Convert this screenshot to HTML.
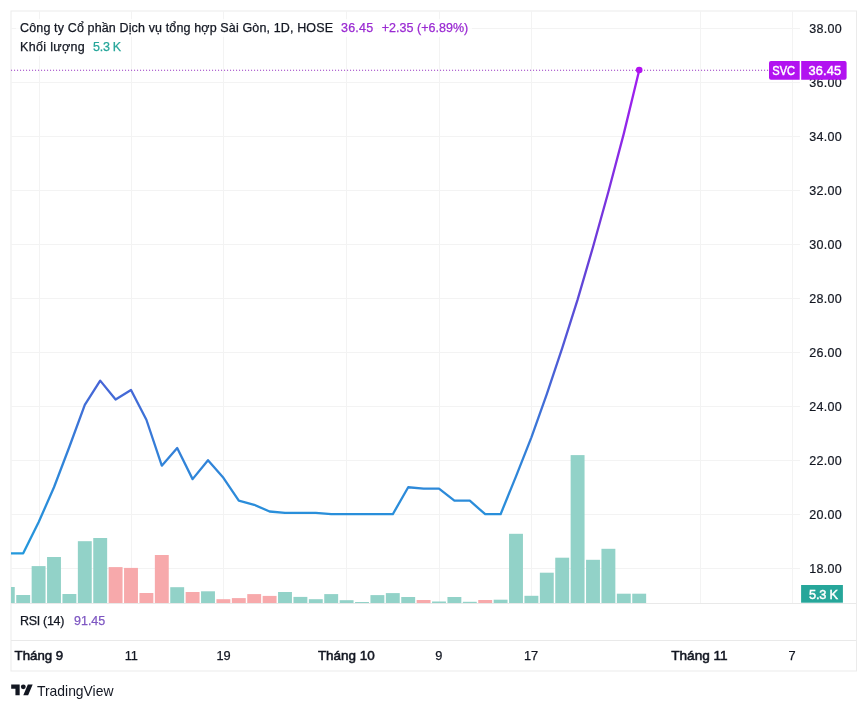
<!DOCTYPE html>
<html><head><meta charset="utf-8">
<style>
html,body{margin:0;padding:0;background:#fff;width:868px;height:710px;overflow:hidden}
svg{position:absolute;left:0;top:0;will-change:transform}
text{font-family:"Liberation Sans", sans-serif}
</style></head><body>
<svg width="868" height="710" viewBox="0 0 868 710">
<defs>
<linearGradient id="lg" gradientUnits="userSpaceOnUse" x1="0" y1="554" x2="0" y2="70">
<stop offset="0" stop-color="#2398dc"/>
<stop offset="0.2" stop-color="#3282d8"/>
<stop offset="0.38" stop-color="#4a60d6"/>
<stop offset="0.63" stop-color="#6a3cd8"/>
<stop offset="1" stop-color="#a31cf0"/>
</linearGradient>
<clipPath id="cp"><rect x="11" y="11" width="789" height="592"/></clipPath>
</defs>
<rect x="11" y="11" width="845.5" height="660" fill="#fff" stroke="#ebebeb" stroke-width="1"/>
<line x1="11" x2="800" y1="28.5" y2="28.5" stroke="#f3f3f3" stroke-width="1"/>
<line x1="11" x2="800" y1="82.5" y2="82.5" stroke="#f3f3f3" stroke-width="1"/>
<line x1="11" x2="800" y1="136.5" y2="136.5" stroke="#f3f3f3" stroke-width="1"/>
<line x1="11" x2="800" y1="190.5" y2="190.5" stroke="#f3f3f3" stroke-width="1"/>
<line x1="11" x2="800" y1="244.5" y2="244.5" stroke="#f3f3f3" stroke-width="1"/>
<line x1="11" x2="800" y1="298.5" y2="298.5" stroke="#f3f3f3" stroke-width="1"/>
<line x1="11" x2="800" y1="352.5" y2="352.5" stroke="#f3f3f3" stroke-width="1"/>
<line x1="11" x2="800" y1="406.5" y2="406.5" stroke="#f3f3f3" stroke-width="1"/>
<line x1="11" x2="800" y1="460.5" y2="460.5" stroke="#f3f3f3" stroke-width="1"/>
<line x1="11" x2="800" y1="514.5" y2="514.5" stroke="#f3f3f3" stroke-width="1"/>
<line x1="11" x2="800" y1="568.5" y2="568.5" stroke="#f3f3f3" stroke-width="1"/>
<line x1="39.5" x2="39.5" y1="11" y2="603" stroke="#f3f3f3" stroke-width="1"/>
<line x1="131.5" x2="131.5" y1="11" y2="603" stroke="#f3f3f3" stroke-width="1"/>
<line x1="223.5" x2="223.5" y1="11" y2="603" stroke="#f3f3f3" stroke-width="1"/>
<line x1="346.5" x2="346.5" y1="11" y2="603" stroke="#f3f3f3" stroke-width="1"/>
<line x1="439.5" x2="439.5" y1="11" y2="603" stroke="#f3f3f3" stroke-width="1"/>
<line x1="531.5" x2="531.5" y1="11" y2="603" stroke="#f3f3f3" stroke-width="1"/>
<line x1="700.5" x2="700.5" y1="11" y2="603" stroke="#f3f3f3" stroke-width="1"/>
<line x1="792.5" x2="792.5" y1="11" y2="603" stroke="#f3f3f3" stroke-width="1"/>
<rect x="11.00" y="587.00" width="3.75" height="16.00" fill="#92d2c8"/>
<rect x="16.25" y="595.00" width="13.90" height="8.00" fill="#92d2c8"/>
<rect x="31.65" y="566.10" width="13.90" height="36.90" fill="#92d2c8"/>
<rect x="47.05" y="557.00" width="13.90" height="46.00" fill="#92d2c8"/>
<rect x="62.45" y="594.00" width="13.90" height="9.00" fill="#92d2c8"/>
<rect x="77.85" y="541.20" width="13.90" height="61.80" fill="#92d2c8"/>
<rect x="93.25" y="538.00" width="13.90" height="65.00" fill="#92d2c8"/>
<rect x="108.65" y="567.10" width="13.90" height="35.90" fill="#f7a9ab"/>
<rect x="124.05" y="567.90" width="13.90" height="35.10" fill="#f7a9ab"/>
<rect x="139.45" y="593.00" width="13.90" height="10.00" fill="#f7a9ab"/>
<rect x="154.85" y="555.00" width="13.90" height="48.00" fill="#f7a9ab"/>
<rect x="170.25" y="587.20" width="13.90" height="15.80" fill="#92d2c8"/>
<rect x="185.65" y="592.00" width="13.90" height="11.00" fill="#f7a9ab"/>
<rect x="201.05" y="591.30" width="13.90" height="11.70" fill="#92d2c8"/>
<rect x="216.45" y="599.20" width="13.90" height="3.80" fill="#f7a9ab"/>
<rect x="231.85" y="598.10" width="13.90" height="4.90" fill="#f7a9ab"/>
<rect x="247.25" y="594.10" width="13.90" height="8.90" fill="#f7a9ab"/>
<rect x="262.65" y="595.90" width="13.90" height="7.10" fill="#f7a9ab"/>
<rect x="278.05" y="592.00" width="13.90" height="11.00" fill="#92d2c8"/>
<rect x="293.45" y="596.90" width="13.90" height="6.10" fill="#92d2c8"/>
<rect x="308.85" y="599.20" width="13.90" height="3.80" fill="#92d2c8"/>
<rect x="324.25" y="594.10" width="13.90" height="8.90" fill="#92d2c8"/>
<rect x="339.65" y="600.20" width="13.90" height="2.80" fill="#92d2c8"/>
<rect x="355.05" y="602.00" width="13.90" height="1.00" fill="#92d2c8"/>
<rect x="370.45" y="595.10" width="13.90" height="7.90" fill="#92d2c8"/>
<rect x="385.85" y="593.10" width="13.90" height="9.90" fill="#92d2c8"/>
<rect x="401.25" y="597.00" width="13.90" height="6.00" fill="#92d2c8"/>
<rect x="416.65" y="600.00" width="13.90" height="3.00" fill="#f7a9ab"/>
<rect x="432.05" y="601.50" width="13.90" height="1.50" fill="#92d2c8"/>
<rect x="447.45" y="597.00" width="13.90" height="6.00" fill="#92d2c8"/>
<rect x="462.85" y="601.80" width="13.90" height="1.20" fill="#92d2c8"/>
<rect x="478.25" y="600.00" width="13.90" height="3.00" fill="#f7a9ab"/>
<rect x="493.65" y="599.70" width="13.90" height="3.30" fill="#92d2c8"/>
<rect x="509.05" y="533.80" width="13.90" height="69.20" fill="#92d2c8"/>
<rect x="524.45" y="595.80" width="13.90" height="7.20" fill="#92d2c8"/>
<rect x="539.85" y="572.70" width="13.90" height="30.30" fill="#92d2c8"/>
<rect x="555.25" y="557.70" width="13.90" height="45.30" fill="#92d2c8"/>
<rect x="570.65" y="455.10" width="13.90" height="147.90" fill="#92d2c8"/>
<rect x="586.05" y="559.80" width="13.90" height="43.20" fill="#92d2c8"/>
<rect x="601.45" y="548.80" width="13.90" height="54.20" fill="#92d2c8"/>
<rect x="616.85" y="593.70" width="13.90" height="9.30" fill="#92d2c8"/>
<rect x="632.25" y="593.70" width="13.90" height="9.30" fill="#92d2c8"/>
<polyline points="7.80,553.36 23.20,553.36 38.60,522.32 54.00,487.23 69.40,446.74 84.80,404.91 100.20,380.62 115.60,399.51 131.00,390.07 146.40,419.75 161.80,465.64 177.20,448.09 192.60,479.13 208.00,460.24 223.40,477.78 238.80,500.72 254.20,504.77 269.60,511.52 285.00,512.87 300.40,512.87 315.80,512.87 331.20,514.22 346.60,514.22 362.00,514.22 377.40,514.22 392.80,514.22 408.20,487.23 423.60,488.58 439.00,488.58 454.40,500.72 469.80,500.72 485.20,514.22 500.60,514.22 516.00,476.43 531.40,437.30 546.80,394.11 562.20,348.23 577.60,299.65 593.00,247.02 608.40,191.69 623.80,133.66 639.20,70.23" fill="none" stroke="url(#lg)" stroke-width="2.3" stroke-linejoin="round" stroke-linecap="round" clip-path="url(#cp)"/>
<line x1="11" x2="769" y1="70.3" y2="70.3" stroke="#9a3ac4" stroke-width="1.1" stroke-dasharray="1.1 1.9"/>
<circle cx="639.20" cy="70" r="3.3" fill="#b212f0"/>
<line x1="11" x2="856" y1="603.5" y2="603.5" stroke="#e9e9e9" stroke-width="1"/>
<line x1="11" x2="856" y1="640.5" y2="640.5" stroke="#e9e9e9" stroke-width="1"/>
<g font-size="12.5" fill="#131722" stroke="#131722" stroke-width="0.2">
<text x="809.2" y="32.90" textLength="32.5" lengthAdjust="spacing">38.00</text>
<text x="809.2" y="86.90" textLength="32.5" lengthAdjust="spacing">36.00</text>
<text x="809.2" y="140.90" textLength="32.5" lengthAdjust="spacing">34.00</text>
<text x="809.2" y="194.90" textLength="32.5" lengthAdjust="spacing">32.00</text>
<text x="809.2" y="248.90" textLength="32.5" lengthAdjust="spacing">30.00</text>
<text x="809.2" y="302.90" textLength="32.5" lengthAdjust="spacing">28.00</text>
<text x="809.2" y="356.90" textLength="32.5" lengthAdjust="spacing">26.00</text>
<text x="809.2" y="410.90" textLength="32.5" lengthAdjust="spacing">24.00</text>
<text x="809.2" y="464.90" textLength="32.5" lengthAdjust="spacing">22.00</text>
<text x="809.2" y="518.90" textLength="32.5" lengthAdjust="spacing">20.00</text>
<text x="809.2" y="572.90" textLength="32.5" lengthAdjust="spacing">18.00</text>
</g>
<path d="M771 61 H799.7 V79.8 H771 a2 2 0 0 1 -2 -2 V63 a2 2 0 0 1 2 -2z" fill="#b212f0"/>
<path d="M801.2 61 H844.6 a2 2 0 0 1 2 2 V77.8 a2 2 0 0 1 -2 2 H801.2z" fill="#b212f0"/>
<text x="772.3" y="75" font-size="12.3" fill="#fff" stroke="#fff" stroke-width="0.45" textLength="22.8" lengthAdjust="spacingAndGlyphs">SVC</text>
<text x="808.6" y="75" font-size="12.8" fill="#fff" stroke="#fff" stroke-width="0.45" textLength="32.6" lengthAdjust="spacing">36.45</text>
<rect x="801.1" y="585" width="41.8" height="17.7" fill="#26a69a"/>
<text x="809" y="598.8" font-size="12.8" fill="#fff" stroke="#fff" stroke-width="0.45" textLength="29" lengthAdjust="spacing">5.3 K</text>
<rect x="16" y="19" width="456" height="18" fill="#fff" fill-opacity="0.75"/>
<rect x="16" y="38" width="110" height="18" fill="#fff" fill-opacity="0.75"/>
<text x="20.1" y="32.4" font-size="12.5" fill="#131722" stroke="#131722" stroke-width="0.25" textLength="312.9" lengthAdjust="spacing">Công ty Cổ phần Dịch vụ tổng hợp Sài Gòn, 1D, HOSE</text>
<text x="341" y="32.4" font-size="12.5" fill="#9a2ad2" stroke="#9a2ad2" stroke-width="0.25" textLength="32.1" lengthAdjust="spacing">36.45</text>
<text x="381.8" y="32.4" font-size="12.5" fill="#9a2ad2" stroke="#9a2ad2" stroke-width="0.25" textLength="86.4" lengthAdjust="spacing">+2.35 (+6.89%)</text>
<text x="20.1" y="51.1" font-size="12.5" fill="#131722" stroke="#131722" stroke-width="0.25" textLength="64.7" lengthAdjust="spacing">Khối lượng</text>
<text x="93" y="51.1" font-size="12.5" fill="#26a69a" stroke="#26a69a" stroke-width="0.25" textLength="28.2" lengthAdjust="spacing">5.3 K</text>
<text x="20.0" y="624.8" font-size="12.5" fill="#131722" stroke="#131722" stroke-width="0.25" textLength="44.3" lengthAdjust="spacing">RSI (14)</text>
<text x="74.1" y="624.8" font-size="12.5" fill="#7e57c2" stroke="#7e57c2" stroke-width="0.25" textLength="31.1" lengthAdjust="spacing">91.45</text>
<text x="14.60" y="660.2" font-size="13.6" fill="#131722" stroke="#131722" stroke-width="0.55" textLength="48.60" lengthAdjust="spacingAndGlyphs">Tháng 9</text>
<text x="131.3" y="660.2" font-size="12.8" fill="#131722" stroke="#131722" stroke-width="0.25" text-anchor="middle">11</text>
<text x="223.5" y="660.2" font-size="12.8" fill="#131722" stroke="#131722" stroke-width="0.25" text-anchor="middle">19</text>
<text x="317.90" y="660.2" font-size="13.6" fill="#131722" stroke="#131722" stroke-width="0.55" textLength="56.90" lengthAdjust="spacingAndGlyphs">Tháng 10</text>
<text x="438.7" y="660.2" font-size="12.8" fill="#131722" stroke="#131722" stroke-width="0.25" text-anchor="middle">9</text>
<text x="531.0" y="660.2" font-size="12.8" fill="#131722" stroke="#131722" stroke-width="0.25" text-anchor="middle">17</text>
<text x="671.20" y="660.2" font-size="13.6" fill="#131722" stroke="#131722" stroke-width="0.55" textLength="56.50" lengthAdjust="spacingAndGlyphs">Tháng 11</text>
<text x="791.95" y="660.2" font-size="12.8" fill="#131722" stroke="#131722" stroke-width="0.25" text-anchor="middle">7</text>
<g transform="translate(11.2,682) scale(0.605)" fill="#131722">
<path d="M14 22H7V11H0V4h14v18zM28 22h-8l7.5-18h8L28 22z"/><circle cx="20" cy="8" r="4"/>
</g>
<text x="37" y="695.5" font-size="13.9" fill="#131722">TradingView</text>
</svg>
</body></html>
